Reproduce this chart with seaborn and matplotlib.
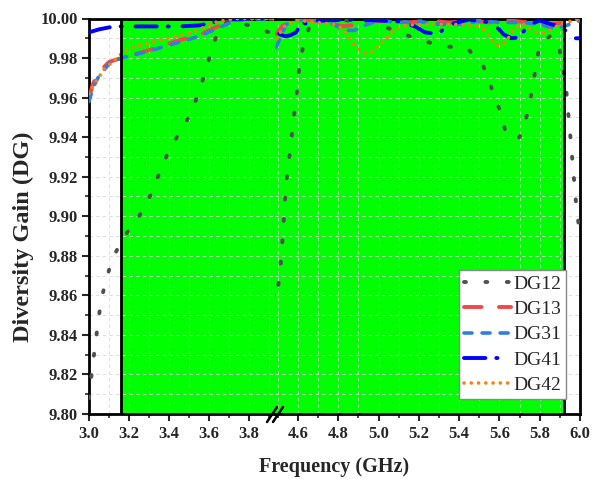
import matplotlib
matplotlib.use("Agg")
import matplotlib.pyplot as plt
import seaborn as sns
import numpy as np
from matplotlib.ticker import MultipleLocator, FormatStrFormatter

# ---------------- data ----------------
freq_dg12 = [3.00, 3.015, 3.03, 3.045, 3.06, 3.085, 3.12, 3.17, 3.245, 3.30, 3.345, 3.39,
             3.445, 3.51, 3.55, 3.585, 3.615, 3.655, 3.70, 3.74, 3.80, 3.845, 3.90, 3.93,
             4.49, 4.51, 4.526, 4.54, 4.555, 4.58, 4.595, 4.605, 4.625, 4.66, 4.75, 4.90,
             5.00, 5.10, 5.21, 5.32, 5.44, 5.52, 5.56, 5.60, 5.63, 5.665, 5.70, 5.74, 5.76,
             5.78, 5.80, 5.85, 5.89, 5.91, 5.93, 5.94, 5.95, 5.96, 5.97, 5.98, 6.00]
dg12 = [9.808, 9.822, 9.834, 9.846, 9.857, 9.868, 9.879, 9.889, 9.899, 9.909, 9.920, 9.931,
        9.941, 9.952, 9.963, 9.974, 9.985, 9.996, 9.999, 9.998, 9.9965, 9.995, 9.993, 9.990,
        9.858, 9.870, 9.893, 9.916, 9.928, 9.951, 9.963, 9.974, 9.986, 9.997, 9.999, 9.999,
        9.997, 9.993, 9.989, 9.986, 9.985, 9.976, 9.965, 9.954, 9.943, 9.939, 9.940, 9.952, 9.963,
        9.975, 9.987, 9.991, 9.989, 9.978, 9.966, 9.954, 9.943, 9.931, 9.919, 9.907, 9.890]

freq_dg13 = [3.00, 3.02, 3.05, 3.10, 3.16, 3.30, 3.45, 3.55, 3.62, 3.72, 3.80, 3.93,
             4.49, 4.52, 4.56, 4.65, 4.75, 4.82, 4.90, 4.95, 5.05, 5.15, 5.25, 5.35, 5.45,
             5.55, 5.65, 5.75, 5.85, 5.92, 6.00]
dg13 = [9.960, 9.967, 9.973, 9.978, 9.980, 9.984, 9.989, 9.9915, 9.995, 9.999, 10.0, 10.0,
        9.992, 9.996, 9.999, 9.9995, 9.998, 9.996, 9.997, 9.9985, 9.999, 9.998, 9.999, 9.998, 9.999,
        9.998, 9.999, 9.998, 9.997, 9.998, 10.0]

freq_dg31 = [3.00, 3.02, 3.05, 3.10, 3.16, 3.30, 3.45, 3.55, 3.62, 3.72, 3.80, 3.93,
             4.49, 4.51, 4.54, 4.60, 4.70, 4.78, 4.83, 4.88, 4.93, 5.00, 5.10, 5.20, 5.30,
             5.42, 5.50, 5.60, 5.72, 5.80, 5.87, 5.92, 6.00]
dg31 = [9.958, 9.965, 9.971, 9.977, 9.980, 9.9835, 9.988, 9.991, 9.994, 9.9985, 10.0, 9.9995,
        9.985, 9.990, 9.997, 9.9995, 9.999, 9.997, 9.994, 9.994, 9.9965, 9.999, 9.998, 9.9985, 9.997,
        9.997, 9.999, 9.998, 9.998, 9.997, 9.995, 9.996, 9.999]

freq_dg41 = [3.00, 3.05, 3.10, 3.15, 3.30, 3.45, 3.55, 3.62, 3.70, 3.80, 3.93,
             4.49, 4.51, 4.535, 4.56, 4.59, 4.62, 4.66, 4.70, 4.90, 5.10, 5.18, 5.23, 5.27,
             5.31, 5.35, 5.45, 5.55, 5.58, 5.62, 5.66, 5.70, 5.74, 5.80, 5.86, 5.90, 5.94,
             5.97, 6.00]
dg41 = [9.993, 9.9945, 9.9955, 9.996, 9.996, 9.996, 9.9965, 9.998, 9.9995, 10.0, 10.0,
        9.9935, 9.992, 9.991, 9.9915, 9.993, 9.998, 9.9967, 9.999, 9.9995, 9.9985, 9.996, 9.993, 9.9925,
        9.9935, 9.997, 9.9995, 9.998, 9.9965, 9.992, 9.990, 9.9905, 9.9965, 9.999, 9.997, 9.996, 9.993,
        9.990, 9.990]

freq_dg42 = [3.00, 3.015, 3.04, 3.08, 3.105, 3.14, 3.165, 3.22, 3.30, 3.42, 3.52, 3.60,
             3.65, 3.75, 3.93,
             4.49, 4.51, 4.54, 4.60, 4.70, 4.78, 4.82, 4.85, 4.87, 4.89, 4.93, 4.97, 4.99,
             5.02, 5.05, 5.07, 5.11, 5.14, 5.25, 5.40, 5.50, 5.53, 5.55, 5.57, 5.60, 5.635,
             5.655, 5.67, 5.72, 5.78, 5.82, 5.85, 5.88, 5.93, 6.00]
dg42 = [9.962, 9.965, 9.969, 9.975, 9.977, 9.980, 9.9825, 9.9857, 9.9875, 9.9907, 9.993, 9.9967,
        9.9987, 10.0, 10.0,
        9.989, 9.9925, 9.997, 9.999, 9.998, 9.997, 9.995, 9.991, 9.988, 9.985, 9.9825, 9.983, 9.9855,
        9.988, 9.991, 9.9937, 9.9957, 9.9967, 9.997, 9.997, 9.996, 9.994, 9.991, 9.9877, 9.986, 9.9886,
        9.992, 9.995, 9.997, 9.993, 9.9927, 9.994, 9.996, 9.998, 10.0]

x_ticks_left = [3.0, 3.2, 3.4, 3.6, 3.8]
x_ticks_right = [4.6, 4.8, 5.0, 5.2, 5.4, 5.6, 5.8, 6.0]
band_start, band_end = 3.16, 5.92

series = [
    ("DG12", freq_dg12, dg12, "#505050", dict(lw=2.8, linestyle=(0, (0.5, 5.0)), dash_capstyle="round")),
    ("DG13", freq_dg13, dg13, "#f04848", dict(lw=2.8, linestyle=(0, (4.5, 4.5)), dash_capstyle="round")),
    ("DG31", freq_dg31, dg31, "#2f7fe0", dict(lw=2.6, linestyle=(0, (2.2, 2.8)), dash_capstyle="round")),
    ("DG41", freq_dg41, dg41, "#0000ff", dict(lw=2.8, linestyle=(0, (5.5, 2.8, 0.3, 3.5)), dash_capstyle="round")),
    ("DG42", freq_dg42, dg42, "#ff7f0e", dict(lw=2.6, linestyle=(0, (0.01, 2.0)), dash_capstyle="round")),
]

# ---------------- style ----------------
sns.set_theme(style="white")
plt.rcParams["font.family"] = ["Liberation Serif", "DejaVu Serif"]
plt.rcParams["axes.linewidth"] = 2.0

fig = plt.figure(figsize=(6.05, 4.79), dpi=100)
W, H = 605.0, 479.0
x0, xb, x1 = 89.0, 275.0, 580.0
ytop, ybot = 18.5, 414.0
b = 1 - ybot / H
h = (ybot - ytop) / H
axL = fig.add_axes([x0 / W, b, (xb - x0) / W, h])
axR = fig.add_axes([xb / W, b, (x1 - xb) / W, h], sharey=axL)

xlimL = (3.0, 3.0 + (xb - x0) / 200.0)
xlimR = (6.0 - (x1 - xb) / 201.4, 6.0)

for ax, xl in ((axL, xlimL), (axR, xlimR)):
    ax.set_facecolor("white")
    ax.axvspan(band_start, band_end, color="#00ff00", zorder=0, lw=0)
    ax.set_axisbelow(True)
    for name, fx, fy, col, kw in series:
        sns.lineplot(x=fx, y=fy, ax=ax, color=col, label=name, zorder=3, **kw)
    ax.axvline(band_start, color="black", lw=2.0, zorder=4)
    ax.axvline(band_end, color="black", lw=2.0, zorder=4)
    ax.set_xlim(*xl)
    ax.set_ylim(9.80, 10.00)
    ax.xaxis.set_minor_locator(MultipleLocator(0.1))
    ax.yaxis.set_minor_locator(MultipleLocator(0.01))
    ax.grid(True, which="both", color="#d8d8d8", linestyle=(0, (4, 4)), lw=0.6)
    ax.tick_params(axis="x", which="major", direction="out", length=5, width=1.5,
                   labelsize=12, pad=4, bottom=True)
    ax.tick_params(axis="x", which="minor", direction="out", length=3, width=1.2, bottom=True)
    ax.set_xlabel("")
    ax.set_ylabel("")
    for sp in ax.spines.values():
        sp.set_color("black")
        sp.set_linewidth(2.0)
    if ax.get_legend() is not None:
        ax.get_legend().remove()

axL.set_xticks(x_ticks_left)
axR.set_xticks(x_ticks_right)
for ax in (axL, axR):
    ax.xaxis.set_major_formatter(FormatStrFormatter("%.1f"))
    for lab in ax.get_xticklabels():
        lab.set_fontweight("bold")

axL.set_yticks(np.round(np.arange(9.80, 10.001, 0.02), 2))
axL.yaxis.set_major_formatter(FormatStrFormatter("%.2f"))
axL.tick_params(axis="y", which="major", direction="out", length=5, width=1.5, labelsize=12, left=True, pad=3)
axL.tick_params(axis="y", which="minor", direction="out", length=3, width=1.2, left=True)
for lab in axL.get_yticklabels():
    lab.set_fontweight("bold")
axL.spines["right"].set_visible(False)
axR.spines["left"].set_visible(False)
axR.tick_params(axis="y", which="both", left=False, right=False, labelleft=False)

fig.text(23 / W, 1 - 237 / H, "Diversity Gain (DG)", rotation=90, ha="center", va="center",
         fontsize=17.5, fontweight="bold")
fig.text((x0 + x1) / 2 / W, 1 - 467 / H, "Frequency (GHz)", ha="center", va="center",
         fontsize=14.5, fontweight="bold")

# break marks
for dx in (0.0, 6.0):
    fig.add_artist(plt.Line2D([(267 + dx) / W, (277 + dx) / W], [1 - 422 / H, 1 - 407 / H],
                              color="black", lw=1.8, transform=fig.transFigure))

handles, labels = axR.get_legend_handles_labels()
leg = axR.legend(handles, labels, loc="lower right",
                 bbox_to_anchor=((566 - xb) / (x1 - xb), (ybot - 399) / (ybot - ytop)),
                 borderaxespad=0, fontsize=14, frameon=True, fancybox=False, framealpha=1,
                 edgecolor="#888888", handlelength=2.45, handletextpad=0.1, borderpad=0.25,
                 labelspacing=0.4)
leg.get_frame().set_linewidth(1.0)
leg.set_zorder(10)

fig.savefig("out.png", dpi=100)
